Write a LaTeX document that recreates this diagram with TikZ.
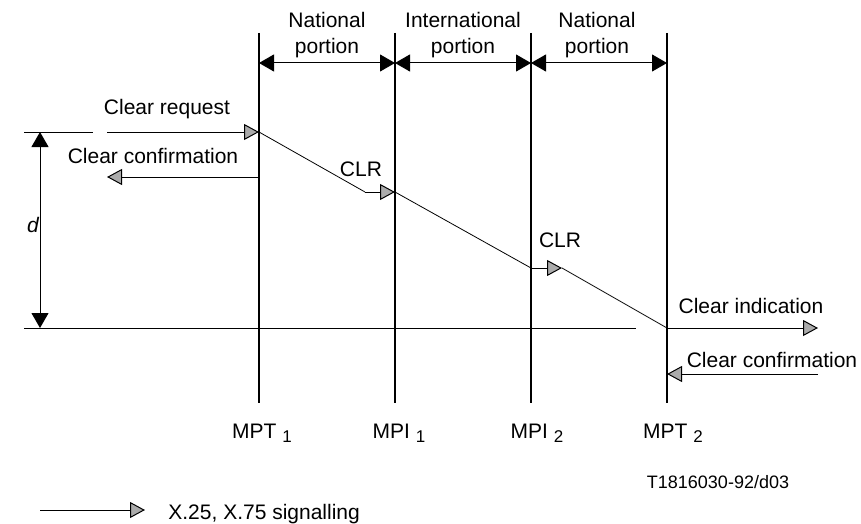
\documentclass[tikz,border=0pt]{standalone}
\usepackage{fontspec}
\setmainfont{Liberation Sans}
\usetikzlibrary{arrows.meta}
\begin{document}
\begin{tikzpicture}[x=0.5pt,y=-0.5pt,
  lbl/.style={inner sep=0pt,font=\fontsize{10.5}{13}\selectfont},
  small/.style={inner sep=0pt,font=\fontsize{9}{11}\selectfont},
  vline/.style={line width=0.55pt},
  thin/.style={line width=0.4pt},
  dimarr/.style={{Triangle[length=7.5pt,width=8.5pt]}-{Triangle[length=7.5pt,width=8.5pt]},line width=0.5pt},
  sig/.style={-{Triangle[length=7.5pt,width=8pt,fill=black!33]},line width=0.5pt},
  sub/.style={}
]
\newcommand{\subnum}[1]{~\raisebox{-0.45ex}{\fontsize{8.5}{9}\selectfont #1}}
\useasboundingbox (0,0) rectangle (861,524);

% vertical lines
\coordinate (t1) at (259,33); \coordinate (b1) at (259,403);
\coordinate (t2) at (395,33); \coordinate (b2) at (395,403);
\coordinate (t3) at (531,33); \coordinate (b3) at (531,403);
\coordinate (t4) at (667,33); \coordinate (b4) at (667,403);
\draw[vline] (t1) -- (b1);
\draw[vline] (t2) -- (b2);
\draw[vline] (t3) -- (b3);
\draw[vline] (t4) -- (b4);

% dimension arrows on top
\coordinate (h1) at (259,63); \coordinate (h2) at (395,63);
\coordinate (h3) at (531,63); \coordinate (h4) at (667,63);
\draw[dimarr] (h1) -- (h2);
\draw[dimarr] (h2) -- (h3);
\draw[dimarr] (h3) -- (h4);
\node[lbl,align=center,anchor=north] (np1) at (327,12) {National\\portion};
\node[lbl,align=center,anchor=north] (ip) at (463,12) {International\\portion};
\node[lbl,align=center,anchor=north] (np2) at (597,12) {National\\portion};

% d dimension
\coordinate (dl) at (24,132); \coordinate (dr) at (93,132);
\draw[thin] (dl) -- (dr);
\coordinate (bl) at (24,328); \coordinate (br) at (636,328);
\draw[thin] (bl) -- (br);
\coordinate (dtop) at (40,132); \coordinate (dbot) at (40,328);
\draw[dimarr] (dtop) -- (dbot);
\node[lbl,anchor=base,font=\fontsize{10.5}{13}\selectfont\itshape] (d) at (33,232) {d};

% left side
\coordinate (cr0) at (107,132); \coordinate (cr1) at (259,132);
\draw[sig] (cr0) -- (cr1);
\node[lbl,anchor=base] (crq) at (167,114) {Clear request};
\coordinate (cc0) at (259,177); \coordinate (cc1) at (107,177);
\draw[sig] (cc0) -- (cc1);
\node[lbl,anchor=base] (ccf) at (153,163) {Clear confirmation};

% diagonal path
\coordinate (p1) at (365,192); \coordinate (p2) at (395,192);
\coordinate (p3) at (531,268); \coordinate (p4) at (562,268);
\coordinate (p5) at (667,328);
\draw[thin] (cr1) -- (p1);
\draw[sig] (p1) -- (p2);
\draw[thin] (p2) -- (p3);
\draw[sig] (p3) -- (p4);
\draw[thin] (p4) -- (p5);
\node[lbl,anchor=base] (clr1) at (361,176) {CLR};
\node[lbl,anchor=base] (clr2) at (560,247) {CLR};

% right side
\coordinate (ci1) at (818,328);
\draw[sig] (p5) -- (ci1);
\node[lbl,anchor=base] (cin) at (751,313) {Clear indication};
\coordinate (rc0) at (818,374); \coordinate (rc1) at (667,374);
\draw[sig] (rc0) -- (rc1);
\node[lbl,anchor=base] (rcf) at (772,367) {Clear confirmation};

% bottom labels
\node[lbl,anchor=base] (m1) at (262,438) {MPT\subnum{1}};
\node[lbl,anchor=base] (m2) at (399,438) {MPI\subnum{1}};
\node[lbl,anchor=base] (m3) at (537,438) {MPI\subnum{2}};
\node[lbl,anchor=base] (m4) at (673,438) {MPT\subnum{2}};

\node[small,anchor=base] (ref) at (718,488) {T1816030-92/d03};

% legend
\coordinate (lg0) at (40,510); \coordinate (lg1) at (145,510);
\draw[sig] (lg0) -- (lg1);
\node[lbl,anchor=base west] (lgt) at (168,519) {X.25, X.75 signalling};
\end{tikzpicture}
\end{document}
